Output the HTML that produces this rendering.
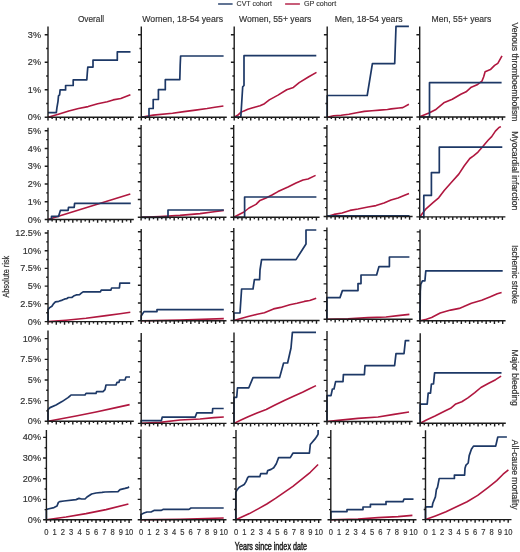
<!DOCTYPE html>
<html><head><meta charset="utf-8"><style>html,body{margin:0;padding:0;background:#fff;}svg{display:block;filter:blur(0.4px);}</style></head>
<body><svg width="520" height="552" viewBox="0 0 520 552">
<rect width="520" height="552" fill="#fff"/>
<g fill="none" stroke-width="1.7" stroke-linejoin="round" stroke-linecap="butt"><polyline points="48.1,117.2 59.2,113.9 68.8,111 78.5,108.5 88.1,106.6 97.7,103.7 107.3,101.8 113.1,99.9 120.8,98.5 130.4,94.7" stroke="#b0173f" stroke-width="1.6"/><polyline points="48,112.7 56.3,112.7 56.9,107.8 58,101.3 58.5,95.9 59.6,94.8 60.1,89.9 65.6,89.9 65.6,85.5 73.2,85.5 73.2,79.9 86.8,79.9 87.3,73 87.8,67.1 93,67.1 93,60.2 117.3,60.2 117.3,51.8 130.5,51.8" stroke="#1d3866"/><polyline points="141.3,117.2 153.2,115.1 172.5,113.3 184,111.6 195.5,110.1 207.1,108.5 214.8,107.2 223.4,106" stroke="#b0173f" stroke-width="1.6"/><polyline points="141.3,117.2 149,117.2 149,108.5 153.2,108.5 153.2,99.5 158.4,99.5 158.4,89.7 165.3,89.7 165.3,79.7 179.8,79.7 180.2,65 180.6,56 223.6,56" stroke="#1d3866"/><polyline points="234.2,117.2 237.6,115.3 240.8,112.4 244,110.9 247.8,109.3 252.8,107.7 260,105.8 264.5,103.7 269.3,99.9 278,95.1 286.7,89.7 293.4,87.4 299.2,82.6 308.8,76.8 316.5,72.4" stroke="#b0173f" stroke-width="1.6"/><polyline points="234.2,117.2 240.8,117.2 242.7,86.8 244,85.5 244,55.7 316.3,55.7" stroke="#1d3866"/><polyline points="327.2,117.2 333.5,115.8 341.2,115.3 348.9,114.3 356.6,112.8 364.3,111.4 372,110.8 379.7,110.1 387.4,109.5 391.2,108.9 398.9,108 402.8,107.6 408.9,104.3" stroke="#b0173f" stroke-width="1.6"/><polyline points="327.2,117.2 327.2,95.5 367.2,95.5 372.4,63.7 394.7,63.7 396,26.4 408.9,26.4" stroke="#1d3866"/><polyline points="419.7,116.8 429,113 435.4,109.8 443.8,102.8 452.3,99.2 460.8,94.3 466.1,91.8 471.3,87.2 477.7,84.4 481.9,81.2 483.6,77 485.1,71.7 490.4,69.6 494.6,65.4 497.8,63.3 502,55.8" stroke="#b0173f" stroke-width="1.6"/><polyline points="419.7,117 429.5,117 429.5,82.7 501.6,82.7" stroke="#1d3866"/><polyline points="48,219.5 130.3,194.1" stroke="#b0173f" stroke-width="1.6"/><polyline points="48,219.5 51.5,219.5 51.5,216.4 58.5,216.4 60.4,210.4 68.1,210.4 68.5,207.3 74.2,207.3 74.6,203.3 130.8,203.3" stroke="#1d3866"/><polyline points="141.1,217.3 160,216.5 180,215.4 200,213.6 214,211.8 223.8,210.4" stroke="#b0173f" stroke-width="1.6"/><polyline points="141.1,217.3 168,217.3 168,210 223.8,210" stroke="#1d3866"/><polyline points="233.7,217.3 244,212 249,208 256,204.4 260,200.4 266,198 272,195 278,191.6 288,187 296,183 303,180 308,179 315.6,175.4" stroke="#b0173f" stroke-width="1.6"/><polyline points="233.7,217.3 244.6,217.3 244.6,197 316.4,197" stroke="#1d3866"/><polyline points="326.9,216.5 334,214.4 342,213 350,210.4 358,209 368,207 376,205.6 384,203 391,200 398,198 404,195.6 409,193.6" stroke="#b0173f" stroke-width="1.6"/><polyline points="326.9,215.9 409.5,215.9" stroke="#1d3866"/><polyline points="419.7,216.9 426,208.8 433.3,202.4 438.7,197.8 444.2,190.5 451.5,182.3 458.8,174.1 464.3,165.8 469.8,158.5 473.5,155.8 478,152.1 482.6,146.7 488.1,140.3 491.7,136.6 495.4,131.1 499,127.5 500.9,126.6" stroke="#b0173f" stroke-width="1.6"/><polyline points="419.7,216.9 423.8,216.9 423.8,195.4 431.4,195.4 431.4,172.6 439.3,172.6 439.3,147.2 502.3,147.2" stroke="#1d3866"/><polyline points="48,321.6 66,320.2 86,318.2 106,315.6 120,313.8 130.3,312.3" stroke="#b0173f" stroke-width="1.6"/><polyline points="48.1,321.6 48.1,309.6 49.3,307.9 51.9,306.2 53.7,303.6 55.4,301.8 58.8,301.3 62.3,300.1 64.9,298.9 66.6,298.7 68.4,297.5 71.8,297.5 73.6,296.1 76.2,294.9 79.6,294.6 81.3,293.2 83.1,291.8 100.4,291.8 101.2,290.2 110.8,290.2 111.6,288 119.4,288 119.9,283.1 130.2,283.1" stroke="#1d3866"/><polyline points="141.2,320.8 180,320 223.8,318.6" stroke="#b0173f" stroke-width="1.6"/><polyline points="141.2,320.8 141.2,316 144,311.6 157,311.6 157,309.6 223.8,309.6" stroke="#1d3866"/><polyline points="233.8,320.5 240.9,318.5 248.1,316.6 257.2,314.2 264.4,312.7 273.5,308.9 280.7,307.4 289.8,304.8 297,303.3 304.3,301.4 309.7,300.5 316.2,298.2" stroke="#b0173f" stroke-width="1.6"/><polyline points="233.8,320.5 233.8,313 240,313 241.6,289 253,289 254.4,279.6 259.6,279.6 260,270 261.6,259.6 296,259.6 306,244 306,230 316.3,230" stroke="#1d3866"/><polyline points="326.9,319.3 348,318.8 368,317.6 386,317 398,315.6 409.4,314.4" stroke="#b0173f" stroke-width="1.6"/><polyline points="326.9,319.3 326.9,297.6 340,297.6 342.4,290.6 358,290.6 358,283.6 361,283.6 361,275 376.6,275 379,266.6 389.4,266.6 389.4,257 409.4,257" stroke="#1d3866"/><polyline points="420,320.8 426.4,319.3 431.6,317.5 440.2,313 450.6,310.1 459.3,308.4 462.7,307.1 471.4,303.2 481.7,300.2 490.4,296.8 497.3,293.7 501.6,292.4" stroke="#b0173f" stroke-width="1.6"/><polyline points="420,320.8 420.3,291.2 420.8,284.3 422.4,280.8 424.9,280.8 425.8,270.9 502.7,270.9" stroke="#1d3866"/><polyline points="48,421.2 76,416 96,412 116,407.6 129.6,404.6" stroke="#b0173f" stroke-width="1.6"/><polyline points="48,421.2 48,409.6 50,407.6 56,405 62,401.6 68,397.6 70,396 71,395 85,395 86,393.4 96,393.4 96.6,391.6 103,391.6 105,389.6 106,385 116,385 117,382.4 119,382.4 119.6,380 125,380 126,377 130,377" stroke="#1d3866"/><polyline points="141.2,423.4 160,422.4 180,420 200,419 214,417.6 223.8,417" stroke="#b0173f" stroke-width="1.6"/><polyline points="141.2,423.4 141.2,420.6 161.4,420.6 162.2,417.2 195.1,417.2 196.8,412.9 212.4,412.9 212.7,408.5 223.7,408.5" stroke="#1d3866"/><polyline points="234,423.4 241,420 248.1,416.8 257,413 266.2,409.5 275,405 284.3,400.5 293,396.5 302.5,392.3 309,389 316,385.6" stroke="#b0173f" stroke-width="1.6"/><polyline points="234,423.4 234,397.3 236.7,397.3 237.5,387.8 248.8,387.8 253,377.6 279.6,377.6 283.6,363 287.6,363 291,348 292.4,332.4 316,332.4" stroke="#1d3866"/><polyline points="327,421.5 338,420.4 358,418.4 378,417 394,414.4 409,412" stroke="#b0173f" stroke-width="1.6"/><polyline points="327,421.5 327,395.6 331,395.6 332.4,389 334,389 335.6,381.6 343,381.6 343.4,374.6 364.4,374.6 365,365.6 394.6,365.6 396,353.6 404,353.6 405.4,340.6 409.4,340.6" stroke="#1d3866"/><polyline points="420.2,423.3 426.4,420 435,416 445.4,410.8 450.6,408.3 455.8,403.9 461.8,401.7 467.9,397.9 474.8,392.7 480.9,387.5 488.7,383.2 495.6,379.7 501.1,376.2" stroke="#b0173f" stroke-width="1.6"/><polyline points="420.2,423.3 420.2,404.1 427.2,404.1 428.2,393.2 430.5,393.2 431.4,384 433.5,384 434.6,372.9 501.5,372.9" stroke="#1d3866"/><polyline points="46.4,519.8 66,517 86,513.6 106,509.6 128.4,504" stroke="#b0173f" stroke-width="1.6"/><polyline points="46.4,519.8 46.4,509.6 48,509 54,507.6 57,506 58.4,502.4 59.6,501.6 64,501 76,499.6 79,498.4 81.6,499 85,499 87,497 91.6,494 96,493 102,492.4 105,492 118,491.6 120,489.6 125,488.4 128,487.6 129,486.6" stroke="#1d3866"/><polyline points="141,519.8 180,519.3 223.7,518" stroke="#b0173f" stroke-width="1.6"/><polyline points="141,519.8 141,514.4 144,513 147,512 151,512 154,510.4 161,510.4 163,509.4 189,509.4 191,508 223.7,508" stroke="#1d3866"/><polyline points="235.8,519.8 240.7,517.6 249.4,513.6 258.1,508.9 266.8,504 275.5,498.4 284.2,492.3 292.9,486.3 301.6,479.3 310.3,472.3 318.1,464.5" stroke="#b0173f" stroke-width="1.6"/><polyline points="235.8,519.8 235.8,492.3 237.2,489.7 239,487.5 241.6,485.9 244.2,484.5 245.9,481.9 247.7,477.6 248.5,476.7 259.8,476.7 260.7,473.7 266.8,473.7 267.7,470.6 271.1,469.4 273.7,467.7 276.3,463.7 278.6,457.6 290.3,457.6 292.9,453.2 309.4,453.2 310.3,444.5 315.5,438.4 317.2,435.8 318.1,434.1 318.1,430.1" stroke="#1d3866"/><polyline points="330.8,519.8 358,519 378,517.6 398,516.6 412.4,515.4" stroke="#b0173f" stroke-width="1.6"/><polyline points="330.8,519.8 330.8,511.6 347,511.6 347,509.6 363,509.6 363,507 370.4,507 370.4,504.4 386,504.4 386,501.6 403,501.6 404,499.2 413.5,499.2" stroke="#1d3866"/><polyline points="425.5,519.6 435.4,515.9 446,511.7 456.5,506.8 467.1,501.7 477.7,495.4 488.3,487.3 496.7,480.6 503.1,474.2 508.4,469.8" stroke="#b0173f" stroke-width="1.6"/><polyline points="425.5,519.6 425.5,507.4 426.9,506.8 432.2,506.8 432.8,503.2 435.4,496.9 436.4,489.5 437.5,487.3 439.2,478.5 454.4,478.5 454.4,475.1 464.6,475.1 465,468.3 466,465.1 468.2,463 469.2,455.6 471.4,449.3 473.5,446.1 495.7,446.1 497.8,437 506.9,437" stroke="#1d3866"/></g>
<g fill="none" stroke="#1c1c1c" stroke-width="1.4"><path d="M48 26.5V120.4M44.7 117.2H133.8M46.2 103.5H48M44.7 89.8H48M46.2 76.05H48M44.7 62.3H48M46.2 48.55H48M44.7 34.8H48M52.13 117.2V119.1M56.27 117.2V120.4M60.4 117.2V119.1M64.54 117.2V120.4M68.67 117.2V119.1M72.81 117.2V120.4M76.95 117.2V119.1M81.08 117.2V120.4M85.22 117.2V119.1M89.35 117.2V120.4M93.48 117.2V119.1M97.62 117.2V120.4M101.76 117.2V119.1M105.89 117.2V120.4M110.03 117.2V119.1M114.16 117.2V120.4M118.3 117.2V119.1M122.43 117.2V120.4M126.56 117.2V119.1M130.7 117.2V120.4"/><path d="M141.3 26.5V120.4M138 117.2H226.8M139.5 103.5H141.3M138 89.8H141.3M139.5 76.05H141.3M138 62.3H141.3M139.5 48.55H141.3M138 34.8H141.3M145.44 117.2V119.1M149.57 117.2V120.4M153.71 117.2V119.1M157.84 117.2V120.4M161.97 117.2V119.1M166.11 117.2V120.4M170.25 117.2V119.1M174.38 117.2V120.4M178.51 117.2V119.1M182.65 117.2V120.4M186.78 117.2V119.1M190.92 117.2V120.4M195.06 117.2V119.1M199.19 117.2V120.4M203.32 117.2V119.1M207.46 117.2V120.4M211.59 117.2V119.1M215.73 117.2V120.4M219.87 117.2V119.1M224 117.2V120.4"/><path d="M234.2 26.5V120.4M230.9 117.2H319.8M232.4 103.5H234.2M230.9 89.8H234.2M232.4 76.05H234.2M230.9 62.3H234.2M232.4 48.55H234.2M230.9 34.8H234.2M238.33 117.2V119.1M242.47 117.2V120.4M246.6 117.2V119.1M250.74 117.2V120.4M254.87 117.2V119.1M259.01 117.2V120.4M263.14 117.2V119.1M267.28 117.2V120.4M271.41 117.2V119.1M275.55 117.2V120.4M279.68 117.2V119.1M283.82 117.2V120.4M287.95 117.2V119.1M292.09 117.2V120.4M296.22 117.2V119.1M300.36 117.2V120.4M304.5 117.2V119.1M308.63 117.2V120.4M312.76 117.2V119.1M316.9 117.2V120.4"/><path d="M327.2 26.5V120.4M323.9 117.2H412.8M325.4 103.5H327.2M323.9 89.8H327.2M325.4 76.05H327.2M323.9 62.3H327.2M325.4 48.55H327.2M323.9 34.8H327.2M331.33 117.2V119.1M335.47 117.2V120.4M339.6 117.2V119.1M343.74 117.2V120.4M347.88 117.2V119.1M352.01 117.2V120.4M356.14 117.2V119.1M360.28 117.2V120.4M364.41 117.2V119.1M368.55 117.2V120.4M372.68 117.2V119.1M376.82 117.2V120.4M380.95 117.2V119.1M385.09 117.2V120.4M389.22 117.2V119.1M393.36 117.2V120.4M397.5 117.2V119.1M401.63 117.2V120.4M405.76 117.2V119.1M409.9 117.2V120.4"/><path d="M419.7 26.5V120.2M416.4 117H505.4M417.9 103.35H419.7M416.4 89.7H419.7M417.9 75.95H419.7M416.4 62.2H419.7M417.9 48.45H419.7M416.4 34.7H419.7M423.83 117V118.9M427.97 117V120.2M432.1 117V118.9M436.24 117V120.2M440.38 117V118.9M444.51 117V120.2M448.64 117V118.9M452.78 117V120.2M456.91 117V118.9M461.05 117V120.2M465.18 117V118.9M469.32 117V120.2M473.45 117V118.9M477.59 117V120.2M481.72 117V118.9M485.86 117V120.2M490 117V118.9M494.13 117V120.2M498.26 117V118.9M502.4 117V120.2"/><path d="M48 127.8V222.7M44.7 219.5H133.8M46.2 210.6H48M44.7 201.7H48M46.2 192.85H48M44.7 184H48M46.2 175.15H48M44.7 166.3H48M46.2 157.4H48M44.7 148.5H48M46.2 139.65H48M44.7 130.8H48M52.13 219.5V221.4M56.27 219.5V222.7M60.4 219.5V221.4M64.54 219.5V222.7M68.67 219.5V221.4M72.81 219.5V222.7M76.95 219.5V221.4M81.08 219.5V222.7M85.22 219.5V221.4M89.35 219.5V222.7M93.48 219.5V221.4M97.62 219.5V222.7M101.76 219.5V221.4M105.89 219.5V222.7M110.03 219.5V221.4M114.16 219.5V222.7M118.3 219.5V221.4M122.43 219.5V222.7M126.56 219.5V221.4M130.7 219.5V222.7"/><path d="M141.1 125.1V220.5M137.8 217.3H226.5M139.3 208.4H141.1M137.8 199.5H141.1M139.3 190.6H141.1M137.8 181.7H141.1M139.3 172.8H141.1M137.8 163.9H141.1M139.3 155.1H141.1M137.8 146.3H141.1M139.3 137.4H141.1M137.8 128.5H141.1M145.23 217.3V219.2M149.37 217.3V220.5M153.5 217.3V219.2M157.64 217.3V220.5M161.77 217.3V219.2M165.91 217.3V220.5M170.04 217.3V219.2M174.18 217.3V220.5M178.31 217.3V219.2M182.45 217.3V220.5M186.58 217.3V219.2M190.72 217.3V220.5M194.85 217.3V219.2M198.99 217.3V220.5M203.12 217.3V219.2M207.26 217.3V220.5M211.39 217.3V219.2M215.53 217.3V220.5M219.66 217.3V219.2M223.8 217.3V220.5"/><path d="M233.7 125V220.5M230.4 217.3H319.6M231.9 208.4H233.7M230.4 199.5H233.7M231.9 190.6H233.7M230.4 181.7H233.7M231.9 172.8H233.7M230.4 163.9H233.7M231.9 155.1H233.7M230.4 146.3H233.7M231.9 137.4H233.7M230.4 128.5H233.7M237.83 217.3V219.2M241.97 217.3V220.5M246.1 217.3V219.2M250.24 217.3V220.5M254.37 217.3V219.2M258.51 217.3V220.5M262.64 217.3V219.2M266.78 217.3V220.5M270.91 217.3V219.2M275.05 217.3V220.5M279.18 217.3V219.2M283.32 217.3V220.5M287.45 217.3V219.2M291.59 217.3V220.5M295.72 217.3V219.2M299.86 217.3V220.5M304 217.3V219.2M308.13 217.3V220.5M312.26 217.3V219.2M316.4 217.3V220.5"/><path d="M326.9 125V219.7M323.6 216.5H412.6M325.1 207.65H326.9M323.6 198.8H326.9M325.1 189.95H326.9M323.6 181.1H326.9M325.1 172.25H326.9M323.6 163.4H326.9M325.1 154.55H326.9M323.6 145.7H326.9M325.1 136.85H326.9M323.6 128H326.9M331.03 216.5V218.4M335.17 216.5V219.7M339.3 216.5V218.4M343.44 216.5V219.7M347.57 216.5V218.4M351.71 216.5V219.7M355.84 216.5V218.4M359.98 216.5V219.7M364.11 216.5V218.4M368.25 216.5V219.7M372.38 216.5V218.4M376.52 216.5V219.7M380.65 216.5V218.4M384.79 216.5V219.7M388.92 216.5V218.4M393.06 216.5V219.7M397.19 216.5V218.4M401.33 216.5V219.7M405.46 216.5V218.4M409.6 216.5V219.7"/><path d="M419.7 125.3V220.1M416.4 216.9H505.4M417.9 208.1H419.7M416.4 199.3H419.7M417.9 190.5H419.7M416.4 181.7H419.7M417.9 172.85H419.7M416.4 164H419.7M417.9 155.15H419.7M416.4 146.3H419.7M417.9 137.35H419.7M416.4 128.4H419.7M423.83 216.9V218.8M427.97 216.9V220.1M432.1 216.9V218.8M436.24 216.9V220.1M440.38 216.9V218.8M444.51 216.9V220.1M448.64 216.9V218.8M452.78 216.9V220.1M456.91 216.9V218.8M461.05 216.9V220.1M465.18 216.9V218.8M469.32 216.9V220.1M473.45 216.9V218.8M477.59 216.9V220.1M481.72 216.9V218.8M485.86 216.9V220.1M490 216.9V218.8M494.13 216.9V220.1M498.26 216.9V218.8M502.4 216.9V220.1"/><path d="M48 230V324.8M44.7 321.6H133.8M46.2 312.7H48M44.7 303.8H48M46.2 294.95H48M44.7 286.1H48M46.2 277.25H48M44.7 268.4H48M46.2 259.55H48M44.7 250.7H48M46.2 241.85H48M44.7 233H48M52.13 321.6V323.5M56.27 321.6V324.8M60.4 321.6V323.5M64.54 321.6V324.8M68.67 321.6V323.5M72.81 321.6V324.8M76.95 321.6V323.5M81.08 321.6V324.8M85.22 321.6V323.5M89.35 321.6V324.8M93.48 321.6V323.5M97.62 321.6V324.8M101.76 321.6V323.5M105.89 321.6V324.8M110.03 321.6V323.5M114.16 321.6V324.8M118.3 321.6V323.5M122.43 321.6V324.8M126.56 321.6V323.5M130.7 321.6V324.8"/><path d="M141.2 229V324M137.9 320.8H226.5M139.4 311.9H141.2M137.9 303H141.2M139.4 294.1H141.2M137.9 285.2H141.2M139.4 276.3H141.2M137.9 267.4H141.2M139.4 258.5H141.2M137.9 249.6H141.2M139.4 240.7H141.2M137.9 231.8H141.2M145.33 320.8V322.7M149.47 320.8V324M153.6 320.8V322.7M157.74 320.8V324M161.87 320.8V322.7M166.01 320.8V324M170.14 320.8V322.7M174.28 320.8V324M178.41 320.8V322.7M182.55 320.8V324M186.68 320.8V322.7M190.82 320.8V324M194.95 320.8V322.7M199.09 320.8V324M203.22 320.8V322.7M207.36 320.8V324M211.49 320.8V322.7M215.63 320.8V324M219.76 320.8V322.7M223.9 320.8V324"/><path d="M233.8 228V323.7M230.5 320.5H319.6M232 311.6H233.8M230.5 302.7H233.8M232 293.8H233.8M230.5 284.9H233.8M232 276H233.8M230.5 267.1H233.8M232 258.2H233.8M230.5 249.3H233.8M232 240.45H233.8M230.5 231.6H233.8M237.94 320.5V322.4M242.07 320.5V323.7M246.21 320.5V322.4M250.34 320.5V323.7M254.47 320.5V322.4M258.61 320.5V323.7M262.75 320.5V322.4M266.88 320.5V323.7M271.01 320.5V322.4M275.15 320.5V323.7M279.28 320.5V322.4M283.42 320.5V323.7M287.56 320.5V322.4M291.69 320.5V323.7M295.82 320.5V322.4M299.96 320.5V323.7M304.1 320.5V322.4M308.23 320.5V323.7M312.37 320.5V322.4M316.5 320.5V323.7"/><path d="M326.9 227.6V322.5M323.6 319.3H412.6M325.1 310.45H326.9M323.6 301.6H326.9M325.1 292.75H326.9M323.6 283.9H326.9M325.1 275.05H326.9M323.6 266.2H326.9M325.1 257.3H326.9M323.6 248.4H326.9M325.1 239.5H326.9M323.6 230.6H326.9M331.03 319.3V321.2M335.17 319.3V322.5M339.3 319.3V321.2M343.44 319.3V322.5M347.57 319.3V321.2M351.71 319.3V322.5M355.84 319.3V321.2M359.98 319.3V322.5M364.11 319.3V321.2M368.25 319.3V322.5M372.38 319.3V321.2M376.52 319.3V322.5M380.65 319.3V321.2M384.79 319.3V322.5M388.92 319.3V321.2M393.06 319.3V322.5M397.19 319.3V321.2M401.33 319.3V322.5M405.46 319.3V321.2M409.6 319.3V322.5"/><path d="M420 229.4V324M416.7 320.8H505.6M418.2 311.85H420M416.7 302.9H420M418.2 294H420M416.7 285.1H420M418.2 276.25H420M416.7 267.4H420M418.2 258.55H420M416.7 249.7H420M418.2 240.8H420M416.7 231.9H420M424.13 320.8V322.7M428.27 320.8V324M432.4 320.8V322.7M436.54 320.8V324M440.68 320.8V322.7M444.81 320.8V324M448.94 320.8V322.7M453.08 320.8V324M457.21 320.8V322.7M461.35 320.8V324M465.49 320.8V322.7M469.62 320.8V324M473.75 320.8V322.7M477.89 320.8V324M482.02 320.8V322.7M486.16 320.8V324M490.29 320.8V322.7M494.43 320.8V324M498.56 320.8V322.7M502.7 320.8V324"/><path d="M48 330.4V424.4M44.7 421.2H133.8M46.2 410.9H48M44.7 400.6H48M46.2 390.3H48M44.7 380H48M46.2 369.7H48M44.7 359.4H48M46.2 349H48M44.7 338.6H48M52.13 421.2V423.1M56.27 421.2V424.4M60.4 421.2V423.1M64.54 421.2V424.4M68.67 421.2V423.1M72.81 421.2V424.4M76.95 421.2V423.1M81.08 421.2V424.4M85.22 421.2V423.1M89.35 421.2V424.4M93.48 421.2V423.1M97.62 421.2V424.4M101.76 421.2V423.1M105.89 421.2V424.4M110.03 421.2V423.1M114.16 421.2V424.4M118.3 421.2V423.1M122.43 421.2V424.4M126.56 421.2V423.1M130.7 421.2V424.4"/><path d="M141.2 333V426.6M137.9 423.4H226.5M139.4 413.2H141.2M137.9 403H141.2M139.4 392.7H141.2M137.9 382.4H141.2M139.4 372H141.2M137.9 361.6H141.2M139.4 351.3H141.2M137.9 341H141.2M145.33 423.4V425.3M149.47 423.4V426.6M153.6 423.4V425.3M157.74 423.4V426.6M161.87 423.4V425.3M166.01 423.4V426.6M170.14 423.4V425.3M174.28 423.4V426.6M178.41 423.4V425.3M182.55 423.4V426.6M186.68 423.4V425.3M190.82 423.4V426.6M194.95 423.4V425.3M199.09 423.4V426.6M203.22 423.4V425.3M207.36 423.4V426.6M211.49 423.4V425.3M215.63 423.4V426.6M219.76 423.4V425.3M223.9 423.4V426.6"/><path d="M234 332.4V426.6M230.7 423.4H319.6M232.2 413.2H234M230.7 403H234M232.2 392.75H234M230.7 382.5H234M232.2 372.25H234M230.7 362H234M232.2 351.8H234M230.7 341.6H234M238.13 423.4V425.3M242.27 423.4V426.6M246.41 423.4V425.3M250.54 423.4V426.6M254.67 423.4V425.3M258.81 423.4V426.6M262.94 423.4V425.3M267.08 423.4V426.6M271.21 423.4V425.3M275.35 423.4V426.6M279.49 423.4V425.3M283.62 423.4V426.6M287.75 423.4V425.3M291.89 423.4V426.6M296.02 423.4V425.3M300.16 423.4V426.6M304.29 423.4V425.3M308.43 423.4V426.6M312.56 423.4V425.3M316.7 423.4V426.6"/><path d="M327 331V424.7M323.7 421.5H412.6M325.2 411.25H327M323.7 401H327M325.2 390.7H327M323.7 380.4H327M325.2 370.2H327M323.7 360H327M325.2 349.8H327M323.7 339.6H327M331.13 421.5V423.4M335.27 421.5V424.7M339.4 421.5V423.4M343.54 421.5V424.7M347.68 421.5V423.4M351.81 421.5V424.7M355.94 421.5V423.4M360.08 421.5V424.7M364.21 421.5V423.4M368.35 421.5V424.7M372.49 421.5V423.4M376.62 421.5V424.7M380.75 421.5V423.4M384.89 421.5V424.7M389.02 421.5V423.4M393.16 421.5V424.7M397.29 421.5V423.4M401.43 421.5V424.7M405.56 421.5V423.4M409.7 421.5V424.7"/><path d="M420.2 333.2V426.5M416.9 423.3H505.8M418.4 413.1H420.2M416.9 402.9H420.2M418.4 392.65H420.2M416.9 382.4H420.2M418.4 372H420.2M416.9 361.6H420.2M418.4 351.45H420.2M416.9 341.3H420.2M424.33 423.3V425.2M428.47 423.3V426.5M432.6 423.3V425.2M436.74 423.3V426.5M440.88 423.3V425.2M445.01 423.3V426.5M449.14 423.3V425.2M453.28 423.3V426.5M457.41 423.3V425.2M461.55 423.3V426.5M465.68 423.3V425.2M469.82 423.3V426.5M473.95 423.3V425.2M478.09 423.3V426.5M482.22 423.3V425.2M486.36 423.3V426.5M490.5 423.3V425.2M494.63 423.3V426.5M498.76 423.3V425.2M502.9 423.3V426.5"/><path d="M46.4 430V523M43.1 519.8H132.1M44.6 509.6H46.4M43.1 499.4H46.4M44.6 489.05H46.4M43.1 478.7H46.4M44.6 468.35H46.4M43.1 458H46.4M44.6 447.7H46.4M43.1 437.4H46.4M50.53 519.8V521.7M54.67 519.8V523M58.8 519.8V521.7M62.94 519.8V523M67.08 519.8V521.7M71.21 519.8V523M75.34 519.8V521.7M79.48 519.8V523M83.61 519.8V521.7M87.75 519.8V523M91.89 519.8V521.7M96.02 519.8V523M100.16 519.8V521.7M104.29 519.8V523M108.42 519.8V521.7M112.56 519.8V523M116.7 519.8V521.7M120.83 519.8V523M124.96 519.8V521.7M129.1 519.8V523"/><path d="M141 429.6V523M137.7 519.8H226.5M139.2 509.6H141M137.7 499.4H141M139.2 489.05H141M137.7 478.7H141M139.2 468.35H141M137.7 458H141M139.2 447.7H141M137.7 437.4H141M145.13 519.8V521.7M149.27 519.8V523M153.41 519.8V521.7M157.54 519.8V523M161.67 519.8V521.7M165.81 519.8V523M169.94 519.8V521.7M174.08 519.8V523M178.21 519.8V521.7M182.35 519.8V523M186.48 519.8V521.7M190.62 519.8V523M194.75 519.8V521.7M198.89 519.8V523M203.02 519.8V521.7M207.16 519.8V523M211.29 519.8V521.7M215.43 519.8V523M219.56 519.8V521.7M223.7 519.8V523"/><path d="M236 430.1V523M232.7 519.8H321.5M234.2 509.55H236M232.7 499.3H236M234.2 489.05H236M232.7 478.8H236M234.2 468.35H236M232.7 457.9H236M234.2 447.75H236M232.7 437.6H236M240.13 519.8V521.7M244.27 519.8V523M248.41 519.8V521.7M252.54 519.8V523M256.68 519.8V521.7M260.81 519.8V523M264.94 519.8V521.7M269.08 519.8V523M273.21 519.8V521.7M277.35 519.8V523M281.49 519.8V521.7M285.62 519.8V523M289.75 519.8V521.7M293.89 519.8V523M298.02 519.8V521.7M302.16 519.8V523M306.29 519.8V521.7M310.43 519.8V523M314.56 519.8V521.7M318.7 519.8V523"/><path d="M330.8 430V523M327.5 519.8H416.5M329 509.6H330.8M327.5 499.4H330.8M329 489.05H330.8M327.5 478.7H330.8M329 468.35H330.8M327.5 458H330.8M329 447.7H330.8M327.5 437.4H330.8M334.94 519.8V521.7M339.07 519.8V523M343.2 519.8V521.7M347.34 519.8V523M351.48 519.8V521.7M355.61 519.8V523M359.75 519.8V521.7M363.88 519.8V523M368.01 519.8V521.7M372.15 519.8V523M376.28 519.8V521.7M380.42 519.8V523M384.56 519.8V521.7M388.69 519.8V523M392.82 519.8V521.7M396.96 519.8V523M401.1 519.8V521.7M405.23 519.8V523M409.37 519.8V521.7M413.5 519.8V523"/><path d="M425.5 430.2V522.8M422.2 519.6H511.5M423.7 509.5H425.5M422.2 499.4H425.5M423.7 489.15H425.5M422.2 478.9H425.5M423.7 468.55H425.5M422.2 458.2H425.5M423.7 447.9H425.5M422.2 437.6H425.5M429.63 519.6V521.5M433.77 519.6V522.8M437.9 519.6V521.5M442.04 519.6V522.8M446.18 519.6V521.5M450.31 519.6V522.8M454.44 519.6V521.5M458.58 519.6V522.8M462.71 519.6V521.5M466.85 519.6V522.8M470.99 519.6V521.5M475.12 519.6V522.8M479.25 519.6V521.5M483.39 519.6V522.8M487.52 519.6V521.5M491.66 519.6V522.8M495.79 519.6V521.5M499.93 519.6V522.8M504.06 519.6V521.5M508.2 519.6V522.8"/></g>
<g font-family="Liberation Sans, sans-serif" font-size="9.1" fill="#333333" stroke="#333333" stroke-width="0.18"><text x="41" y="120.2" text-anchor="end">0%</text><text x="41" y="92.8" text-anchor="end">1%</text><text x="41" y="65.3" text-anchor="end">2%</text><text x="41" y="37.8" text-anchor="end">3%</text><text x="41" y="222.5" text-anchor="end">0%</text><text x="41" y="204.7" text-anchor="end">1%</text><text x="41" y="187" text-anchor="end">2%</text><text x="41" y="169.3" text-anchor="end">3%</text><text x="41" y="151.5" text-anchor="end">4%</text><text x="41" y="133.8" text-anchor="end">5%</text><text x="41" y="324.6" text-anchor="end">0%</text><text x="41" y="306.8" text-anchor="end">2.5%</text><text x="41" y="289.1" text-anchor="end">5%</text><text x="41" y="271.4" text-anchor="end">7.5%</text><text x="41" y="253.7" text-anchor="end">10%</text><text x="41" y="236" text-anchor="end">12.5%</text><text x="41" y="424.2" text-anchor="end">0%</text><text x="41" y="403.6" text-anchor="end">2.5%</text><text x="41" y="383" text-anchor="end">5%</text><text x="41" y="362.4" text-anchor="end">7.5%</text><text x="41" y="341.6" text-anchor="end">10%</text><text x="41" y="522.8" text-anchor="end">0%</text><text x="41" y="502.4" text-anchor="end">10%</text><text x="41" y="481.7" text-anchor="end">20%</text><text x="41" y="461" text-anchor="end">30%</text><text x="41" y="440.4" text-anchor="end">40%</text><text transform="translate(46.4,534.8) scale(0.86,1)" text-anchor="middle" font-size="8.8">0</text><text transform="translate(54.67,534.8) scale(0.86,1)" text-anchor="middle" font-size="8.8">1</text><text transform="translate(62.94,534.8) scale(0.86,1)" text-anchor="middle" font-size="8.8">2</text><text transform="translate(71.21,534.8) scale(0.86,1)" text-anchor="middle" font-size="8.8">3</text><text transform="translate(79.48,534.8) scale(0.86,1)" text-anchor="middle" font-size="8.8">4</text><text transform="translate(87.75,534.8) scale(0.86,1)" text-anchor="middle" font-size="8.8">5</text><text transform="translate(96.02,534.8) scale(0.86,1)" text-anchor="middle" font-size="8.8">6</text><text transform="translate(104.29,534.8) scale(0.86,1)" text-anchor="middle" font-size="8.8">7</text><text transform="translate(112.56,534.8) scale(0.86,1)" text-anchor="middle" font-size="8.8">8</text><text transform="translate(120.83,534.8) scale(0.86,1)" text-anchor="middle" font-size="8.8">9</text><text transform="translate(129.1,534.8) scale(0.86,1)" text-anchor="middle" font-size="8.8">10</text><text transform="translate(141,534.8) scale(0.86,1)" text-anchor="middle" font-size="8.8">0</text><text transform="translate(149.27,534.8) scale(0.86,1)" text-anchor="middle" font-size="8.8">1</text><text transform="translate(157.54,534.8) scale(0.86,1)" text-anchor="middle" font-size="8.8">2</text><text transform="translate(165.81,534.8) scale(0.86,1)" text-anchor="middle" font-size="8.8">3</text><text transform="translate(174.08,534.8) scale(0.86,1)" text-anchor="middle" font-size="8.8">4</text><text transform="translate(182.35,534.8) scale(0.86,1)" text-anchor="middle" font-size="8.8">5</text><text transform="translate(190.62,534.8) scale(0.86,1)" text-anchor="middle" font-size="8.8">6</text><text transform="translate(198.89,534.8) scale(0.86,1)" text-anchor="middle" font-size="8.8">7</text><text transform="translate(207.16,534.8) scale(0.86,1)" text-anchor="middle" font-size="8.8">8</text><text transform="translate(215.43,534.8) scale(0.86,1)" text-anchor="middle" font-size="8.8">9</text><text transform="translate(223.7,534.8) scale(0.86,1)" text-anchor="middle" font-size="8.8">10</text><text transform="translate(236,534.8) scale(0.86,1)" text-anchor="middle" font-size="8.8">0</text><text transform="translate(244.27,534.8) scale(0.86,1)" text-anchor="middle" font-size="8.8">1</text><text transform="translate(252.54,534.8) scale(0.86,1)" text-anchor="middle" font-size="8.8">2</text><text transform="translate(260.81,534.8) scale(0.86,1)" text-anchor="middle" font-size="8.8">3</text><text transform="translate(269.08,534.8) scale(0.86,1)" text-anchor="middle" font-size="8.8">4</text><text transform="translate(277.35,534.8) scale(0.86,1)" text-anchor="middle" font-size="8.8">5</text><text transform="translate(285.62,534.8) scale(0.86,1)" text-anchor="middle" font-size="8.8">6</text><text transform="translate(293.89,534.8) scale(0.86,1)" text-anchor="middle" font-size="8.8">7</text><text transform="translate(302.16,534.8) scale(0.86,1)" text-anchor="middle" font-size="8.8">8</text><text transform="translate(310.43,534.8) scale(0.86,1)" text-anchor="middle" font-size="8.8">9</text><text transform="translate(318.7,534.8) scale(0.86,1)" text-anchor="middle" font-size="8.8">10</text><text transform="translate(330.8,534.8) scale(0.86,1)" text-anchor="middle" font-size="8.8">0</text><text transform="translate(339.07,534.8) scale(0.86,1)" text-anchor="middle" font-size="8.8">1</text><text transform="translate(347.34,534.8) scale(0.86,1)" text-anchor="middle" font-size="8.8">2</text><text transform="translate(355.61,534.8) scale(0.86,1)" text-anchor="middle" font-size="8.8">3</text><text transform="translate(363.88,534.8) scale(0.86,1)" text-anchor="middle" font-size="8.8">4</text><text transform="translate(372.15,534.8) scale(0.86,1)" text-anchor="middle" font-size="8.8">5</text><text transform="translate(380.42,534.8) scale(0.86,1)" text-anchor="middle" font-size="8.8">6</text><text transform="translate(388.69,534.8) scale(0.86,1)" text-anchor="middle" font-size="8.8">7</text><text transform="translate(396.96,534.8) scale(0.86,1)" text-anchor="middle" font-size="8.8">8</text><text transform="translate(405.23,534.8) scale(0.86,1)" text-anchor="middle" font-size="8.8">9</text><text transform="translate(413.5,534.8) scale(0.86,1)" text-anchor="middle" font-size="8.8">10</text><text transform="translate(425.5,534.8) scale(0.86,1)" text-anchor="middle" font-size="8.8">0</text><text transform="translate(433.77,534.8) scale(0.86,1)" text-anchor="middle" font-size="8.8">1</text><text transform="translate(442.04,534.8) scale(0.86,1)" text-anchor="middle" font-size="8.8">2</text><text transform="translate(450.31,534.8) scale(0.86,1)" text-anchor="middle" font-size="8.8">3</text><text transform="translate(458.58,534.8) scale(0.86,1)" text-anchor="middle" font-size="8.8">4</text><text transform="translate(466.85,534.8) scale(0.86,1)" text-anchor="middle" font-size="8.8">5</text><text transform="translate(475.12,534.8) scale(0.86,1)" text-anchor="middle" font-size="8.8">6</text><text transform="translate(483.39,534.8) scale(0.86,1)" text-anchor="middle" font-size="8.8">7</text><text transform="translate(491.66,534.8) scale(0.86,1)" text-anchor="middle" font-size="8.8">8</text><text transform="translate(499.93,534.8) scale(0.86,1)" text-anchor="middle" font-size="8.8">9</text><text transform="translate(508.2,534.8) scale(0.86,1)" text-anchor="middle" font-size="8.8">10</text></g>
<g font-family="Liberation Sans, sans-serif" font-size="9.5" fill="#333333" stroke="#333333" stroke-width="0.18"><text x="77.9" y="22.3" textLength="26.2" lengthAdjust="spacingAndGlyphs">Overall</text><text x="142.3" y="22.3" textLength="80.8" lengthAdjust="spacingAndGlyphs">Women, 18-54 years</text><text x="238.95" y="22.3" textLength="72.5" lengthAdjust="spacingAndGlyphs">Women, 55+ years</text><text x="334.85" y="22.3" textLength="67.9" lengthAdjust="spacingAndGlyphs">Men, 18-54 years</text><text x="431.55" y="22.3" textLength="59.7" lengthAdjust="spacingAndGlyphs">Men, 55+ years</text></g>
<path d="M218.1 4H232.6" stroke="#1d3866" stroke-width="1.4"/>
<path d="M285.1 4H299.9" stroke="#b0173f" stroke-width="1.4"/>
<g font-family="Liberation Sans, sans-serif" font-size="7.2" fill="#333333" stroke="#333333" stroke-width="0.12"><text x="236.6" y="6.4" textLength="35.3" lengthAdjust="spacingAndGlyphs">CVT cohort</text><text x="303.9" y="6.4" textLength="32.3" lengthAdjust="spacingAndGlyphs">GP cohort</text></g>
<g font-family="Liberation Sans, sans-serif" font-size="8.9" fill="#333333" stroke="#333333" stroke-width="0.2"><text transform="translate(512.2,22.6) rotate(90)" x="0" y="0" textLength="98.8" lengthAdjust="spacingAndGlyphs">Venous thromboembolism</text><text transform="translate(512.2,131.2) rotate(90)" x="0" y="0" textLength="79.2" lengthAdjust="spacingAndGlyphs">Myocardial infarction</text><text transform="translate(512.2,245) rotate(90)" x="0" y="0" textLength="59" lengthAdjust="spacingAndGlyphs">Ischemic stroke</text><text transform="translate(512.2,349.4) rotate(90)" x="0" y="0" textLength="56.5" lengthAdjust="spacingAndGlyphs">Major bleeding</text><text transform="translate(512.2,439.8) rotate(90)" x="0" y="0" textLength="69.8" lengthAdjust="spacingAndGlyphs">All-cause mortality</text></g>
<text transform="translate(8.6,297.6) rotate(-90)" textLength="41.8" lengthAdjust="spacingAndGlyphs" font-family="Liberation Sans, sans-serif" font-size="9.2" fill="#333333" stroke="#333333" stroke-width="0.25">Absolute risk</text>
<text x="234.8" y="549.5" textLength="72.2" lengthAdjust="spacingAndGlyphs" font-family="Liberation Sans, sans-serif" font-size="10.2" fill="#1c1c1c" stroke="#1c1c1c" stroke-width="0.45">Years since index date</text>
</svg></body></html>
